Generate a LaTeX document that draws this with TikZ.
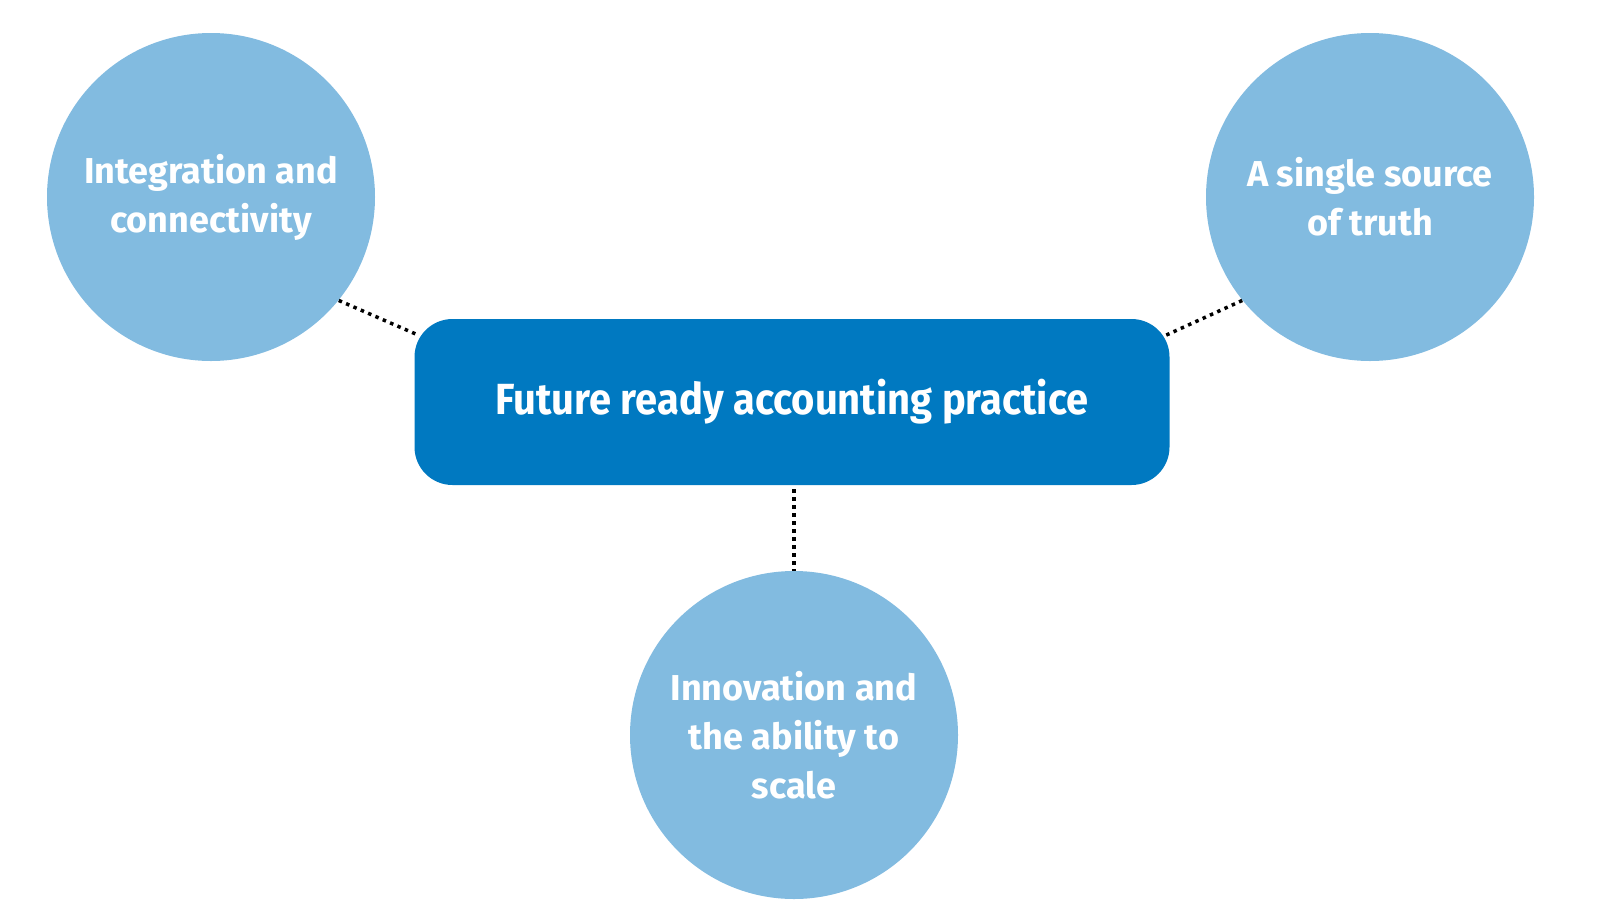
\documentclass[tikz,border=0pt]{standalone}
\usepackage{fontspec}
\setmainfont{Fira Sans}
\newfontfamily\hubfont{Fira Sans}[FakeStretch=0.915]
\usetikzlibrary{calc}
\definecolor{lightblue}{HTML}{82BBE0}
\definecolor{darkblue}{HTML}{0079C1}
\tikzset{
  topic/.style={circle, fill=lightblue, draw=none, minimum size=164pt, inner sep=0pt,
    text=white, font=\fontsize{18pt}{24.5pt}\selectfont\bfseries, align=center},
  hub/.style={rectangle, rounded corners=19pt, fill=darkblue, draw=none,
    minimum width=377.5pt, minimum height=83pt, inner sep=0pt,
    text=white, font=\hubfont\fontsize{21.8pt}{26pt}\selectfont\bfseries},
  link/.style={line width=1.75pt, dash pattern=on 1.75pt off 2.25pt, black}
}
\begin{document}
\begin{tikzpicture}[x=0.5pt, y=-0.5pt]
\useasboundingbox (0,0) rectangle (1600,900);
\node[hub] (B) at (792,402) {Future ready accounting practice};
\node[topic] (L) at (211,197) {Integration and\\connectivity};
\node[topic] (R) at (1370,197) {A single source\\of truth};
\node[topic] (C) at (794,735) {Innovation and\\the ability to\\scale};
\coordinate (bl) at ($(B.north west)+(3,16)$);
\coordinate (br) at ($(B.north east)+(-7,18)$);
\coordinate (bb) at ($(B.south)+(2,4)$);
\draw[link] (L.-39) -- (bl);
\draw[link] (R.-141) -- (br);
\draw[link] (bb) -- (C.north);
\end{tikzpicture}
\end{document}
